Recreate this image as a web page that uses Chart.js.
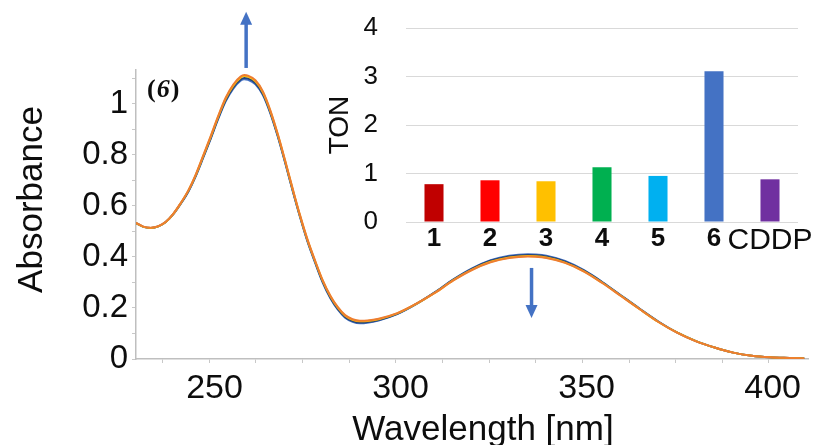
<!DOCTYPE html>
<html><head><meta charset="utf-8">
<script src="https://cdn.jsdelivr.net/npm/chart.js@4"></script>
<style>
html,body{margin:0;padding:0;background:#fff;}
#wrap{position:relative;width:824px;height:445px;background:#fff;}
#main{position:absolute;left:0;top:0;}
#inset{position:absolute;left:320px;top:0;}
</style></head><body>
<div id="wrap"><canvas id="main" width="824" height="445"></canvas><canvas id="inset" width="504" height="270"></canvas></div>
<script>
// ---- Data: UV-vis spectra (wavelength in nm, absorbance) ----
const wavelengths = [228.9,230.9,232.9,234.9,236.9,238.9,240.9,243.0,245.0,247.0,249.0,251.0,253.0,255.0,257.0,258.0,259.0,261.0,263.0,265.0,267.0,269.0,271.0,273.0,275.0,277.1,279.1,281.1,283.1,285.1,287.1,289.1,291.1,294.1,299.1,304.1,309.2,314.2,319.2,324.2,329.2,334.2,336.2,339.2,344.2,349.3,354.3,359.3,364.3,369.3,374.4,379.4,384.4,389.4,394.4,399.4,404.5,408.5];
const absBlue   = [.533,.518,.514,.520,.537,.567,.608,.657,.718,.790,.864,.941,1.010,1.059,1.091,1.097,1.095,1.077,1.035,.963,.872,.768,.660,.556,.460,.375,.299,.239,.194,.162,.146,.140,.142,.151,.176,.214,.261,.312,.355,.387,.405,.411,.410,.405,.384,.348,.301,.249,.197,.147,.103,.070,.045,.025,.013,.007,.004,.002];
const absNavy   = [.533,.518,.514,.520,.537,.568,.609,.659,.720,.793,.867,.945,1.014,1.064,1.096,1.102,1.100,1.082,1.039,.967,.875,.771,.662,.558,.463,.378,.302,.242,.197,.165,.149,.143,.145,.153,.177,.215,.261,.311,.353,.385,.402,.408,.407,.402,.382,.346,.300,.248,.196,.146,.103,.070,.045,.025,.013,.007,.004,.002];
const absYellow = [.533,.518,.514,.520,.537,.568,.610,.661,.723,.797,.872,.950,1.021,1.071,1.103,1.109,1.107,1.089,1.046,.972,.880,.775,.666,.561,.466,.381,.306,.247,.202,.170,.154,.148,.149,.156,.179,.215,.259,.309,.350,.381,.398,.404,.403,.398,.378,.344,.298,.247,.195,.145,.103,.070,.045,.025,.013,.007,.004,.002];
const absOrange = [.534,.519,.515,.521,.538,.569,.611,.662,.725,.799,.875,.953,1.024,1.075,1.107,1.113,1.111,1.093,1.049,.975,.882,.777,.668,.563,.468,.383,.308,.249,.204,.172,.156,.150,.151,.158,.180,.216,.259,.308,.349,.379,.396,.402,.401,.396,.377,.343,.297,.246,.195,.145,.102,.069,.045,.025,.013,.007,.004,.002];
const seriesColors = ['#ED7D31','#FFC000','#264478','#4472C4'];
const xLabelValues = [250,300,350,400];
const xMinorTicks = [236.1,248.6,261.1,273.6,286.2,298.7,311.2,323.8,336.3,348.8,361.4,373.9,386.4,398.9];
const yTickValues = [0,0.1,0.2,0.3,0.4,0.5,0.6,0.7,0.8,0.9,1.0,1.1];
const xTitle = 'Wavelength [nm]';
const yTitle = 'Absorbance';
// arrows (wavelength, start absorbance, end absorbance)
const arrowX = [258.5, 335.2];
const arrowFrom = [1.141, 0.357];
const arrowTo = [1.361, 0.161];
// ---- Inset: TON bar chart ----
const tonLabels = ['1','2','3','4','5','6','CDDP'];
const tonValues = [0.78, 0.86, 0.84, 1.13, 0.95, 3.11, 0.88];
const tonColors = ['#C00000','#FF0000','#FFC000','#00B050','#00B0F0','#4472C4','#7030A0'];
const tonTicks = [0,1,2,3,4];

const FONT = "'Liberation Sans', Arial, sans-serif";
const TXT = '#0d0d0d';

const toPts = arr => wavelengths.map((w,i)=>({x:w,y:arr[i]}));
const seriesData = [absOrange, absYellow, absNavy, absBlue];
const isLabel = v => xLabelValues.includes(v);

const decorPlugin = {
  id:'decor',
  afterDatasetsDraw(chart){
    const {ctx, scales:{x,y}} = chart;
    ctx.save();
    ctx.fillStyle = '#4472C4'; ctx.strokeStyle = '#4472C4';
    for(let i=0;i<arrowX.length;i++){
      const px = x.getPixelForValue(arrowX[i]);
      const y0 = y.getPixelForValue(arrowFrom[i]);
      const y1 = y.getPixelForValue(arrowTo[i]);
      const dir = Math.sign(y1-y0);
      const head = 13;
      ctx.lineWidth = 3.5;
      ctx.beginPath(); ctx.moveTo(px,y0); ctx.lineTo(px,y1-dir*head+dir*1); ctx.stroke();
      ctx.beginPath(); ctx.moveTo(px,y1); ctx.lineTo(px-6,y1-dir*head); ctx.lineTo(px+6,y1-dir*head); ctx.closePath(); ctx.fill();
    }
    const a = chart.chartArea;
    // panel label "(6)"
    ctx.fillStyle = TXT; ctx.textBaseline = 'middle'; ctx.textAlign='left';
    let tx = a.left + 11; const ty = a.top + 20;
    ctx.font = "bold 26px 'Liberation Serif', serif";
    ctx.fillText('(', tx, ty); tx += ctx.measureText('(').width + 1;
    ctx.font = "italic bold 26px 'Liberation Serif', serif";
    ctx.fillText('6', tx, ty); tx += ctx.measureText('6').width + 1;
    ctx.font = "bold 26px 'Liberation Serif', serif";
    ctx.fillText(')', tx, ty);
    // axis titles
    ctx.font = "35px " + FONT;
    ctx.textAlign = 'center'; ctx.textBaseline = 'alphabetic';
    ctx.fillText(xTitle, (a.left + a.right)/2 + 11, chart.height - 5);
    ctx.translate(42, (a.top + a.bottom)/2 - 15);
    ctx.rotate(-Math.PI/2);
    ctx.fillText(yTitle, 0, 0);
    ctx.restore();
  }
};

new Chart(document.getElementById('main'), {
  type:'line',
  data:{datasets: seriesData.map((arr,i)=>({data:toPts(arr), borderColor:seriesColors[i], backgroundColor:seriesColors[i], borderWidth:2, pointRadius:0, cubicInterpolationMode:'monotone', fill:false}))},
  options:{
    responsive:false, animation:false, devicePixelRatio:1,
    layout:{padding:{left:0,right:16,top:70,bottom:0}},
    plugins:{legend:{display:false}, tooltip:{enabled:false}},
    scales:{
      x:{type:'linear', min:228.9, max:409.5,
        afterBuildTicks: s => { s.ticks = xMinorTicks.concat(xLabelValues).sort((p,q)=>p-q).map(v=>({value:v})); },
        afterFit: s => { s.height = 86; },
        grid:{display:true, drawOnChartArea:false, drawTicks:true, tickLength:4,
          color: c => (c.tick && isLabel(c.tick.value)) ? 'rgba(0,0,0,0)' : '#C8C8C8'},
        border:{display:true, color:'#BFBFBF', width:1.5},
        ticks:{autoSkip:false, maxRotation:0, padding:5, color:TXT, font:{family:FONT,size:34},
          callback: v => (isLabel(v) ? String(v) : '')},
        title:{display:false}
      },
      y:{type:'linear', min:0, max:1.133,
        afterBuildTicks: s => { s.ticks = yTickValues.map(v=>({value:v})); },
        afterFit: s => { s.width = 136; },
        grid:{display:true, drawOnChartArea:false, drawTicks:true, tickLength:4, color:'#C8C8C8'},
        border:{display:true, color:'#BFBFBF', width:1.5},
        ticks:{autoSkip:false, padding:4, color:TXT, font:{family:FONT,size:33},
          callback: v => (Math.abs(v*5 - Math.round(v*5)) < 1e-6 ? String(+v.toFixed(1)) : '')},
        title:{display:false}
      }
    }
  },
  plugins:[decorPlugin]
});

new Chart(document.getElementById('inset'), {
  type:'bar',
  data:{labels:tonLabels, datasets:[{data:tonValues, backgroundColor:tonColors, borderWidth:0, barPercentage:0.34, categoryPercentage:1}]},
  options:{
    responsive:false, animation:false, devicePixelRatio:1,
    layout:{padding:{left:0,right:26,top:28,bottom:0}},
    plugins:{legend:{display:false}, tooltip:{enabled:false}},
    scales:{
      x:{grid:{display:false, drawTicks:false}, border:{display:false},
        afterFit: s => { s.height = 48; s.paddingLeft = 0; s.paddingRight = 0; },
        ticks:{autoSkip:false, maxRotation:0, padding:1, color:TXT,
          font: c => (c.index === 6 ? {family:FONT, size:30, weight:'normal'} : {family:FONT, size:26, weight:'bold'})}
      },
      y:{min:0, max:4,
        afterBuildTicks: s => { s.ticks = tonTicks.map(v=>({value:v})); },
        afterFit: s => { s.width = 86; s.paddingTop = 0; s.paddingBottom = 0; },
        grid:{color:'#D9D9D9', lineWidth:1, drawTicks:false},
        border:{display:false},
        ticks:{padding:28, color:TXT, font:{family:FONT,size:26}},
        title:{display:true, text:'TON', color:TXT, font:{family:FONT,size:28}, padding:{top:3,bottom:0}}
      }
    }
  }
});
</script>
</body></html>
